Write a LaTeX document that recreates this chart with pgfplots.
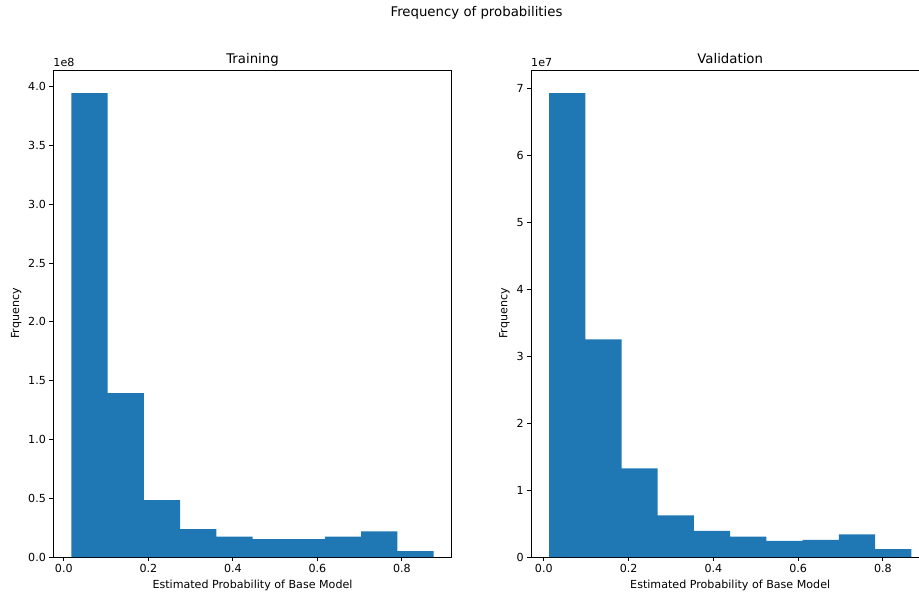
\documentclass[border=0pt]{standalone}
\usepackage{pgfplots}
\pgfplotsset{compat=1.18}
\usepackage{fontspec}
\setmainfont{DejaVu Sans}
\definecolor{mplblue}{HTML}{1F77B4}
\begin{document}
\begin{tikzpicture}
\useasboundingbox (0,0) rectangle (919pt,598pt);
\pgfplotsset{
  mystyle/.style={
    scale only axis, height=487pt, width=398.4pt, ymin=0, clip=false,
    axis line style={line width=0.9pt, black},
    every tick/.style={line width=0.9pt, black},
    major tick length=3.9pt, tick align=outside, xtick pos=bottom, ytick pos=left,
    tick label style={font=\fontsize{11.1}{13}\selectfont},
    label style={font=\fontsize{11.1}{13}\selectfont},
    every axis title shift=0pt,
    title style={font=\fontsize{13.3}{15}\selectfont, at={(0.5,1)}, anchor=base, yshift=6.5pt},
    xlabel={Estimated Probability of Base Model},
    ylabel={Frquency},
    /pgf/number format/assume math mode=true,
    xtick={0,0.2,0.4,0.6,0.8},
    xticklabel style={/pgf/number format/.cd, fixed, fixed zerofill, precision=1},
  }
}
\begin{axis}[mystyle, at={(53.3pt,41pt)}, anchor=south west,
  xmin=-0.0249, xmax=0.9179, ymax=4.143,
  title={Training},
  ytick={0,0.5,1,1.5,2,2.5,3,3.5,4},
  yticklabel style={/pgf/number format/.cd, fixed, fixed zerofill, precision=1}]
\addplot[ybar interval, fill=mplblue, draw=none] coordinates {
(0.018,3.946) (0.1037,1.395) (0.1894,0.484) (0.2751,0.238) (0.3608,0.173)
(0.4465,0.153) (0.5322,0.153) (0.6179,0.173) (0.7036,0.219) (0.7893,0.050)
(0.875,0.050)};
\node[anchor=base west, inner sep=0pt, font=\fontsize{11.1}{13}\selectfont] at (rel axis cs:0,1) [yshift=3.5pt] {1e8};
\end{axis}
\begin{axis}[mystyle, at={(531pt,41pt)}, anchor=south west,
  xmin=-0.0302, xmax=0.9097, ymax=7.273,
  title={Validation},
  ytick={0,1,2,3,4,5,6,7}]
\addplot[ybar interval, fill=mplblue, draw=none] coordinates {
(0.0125,6.927) (0.0979,3.250) (0.1834,1.325) (0.2688,0.623) (0.3543,0.389)
(0.4397,0.305) (0.5251,0.239) (0.6106,0.257) (0.6960,0.338) (0.7815,0.117)
(0.8669,0.117)};
\node[anchor=base west, inner sep=0pt, font=\fontsize{11.1}{13}\selectfont] at (rel axis cs:0,1) [yshift=3.5pt] {1e7};
\end{axis}
\node[anchor=base, font=\fontsize{13.3}{15}\selectfont] at (476.5pt,581pt) {Frequency of probabilities};
\end{tikzpicture}
\end{document}
